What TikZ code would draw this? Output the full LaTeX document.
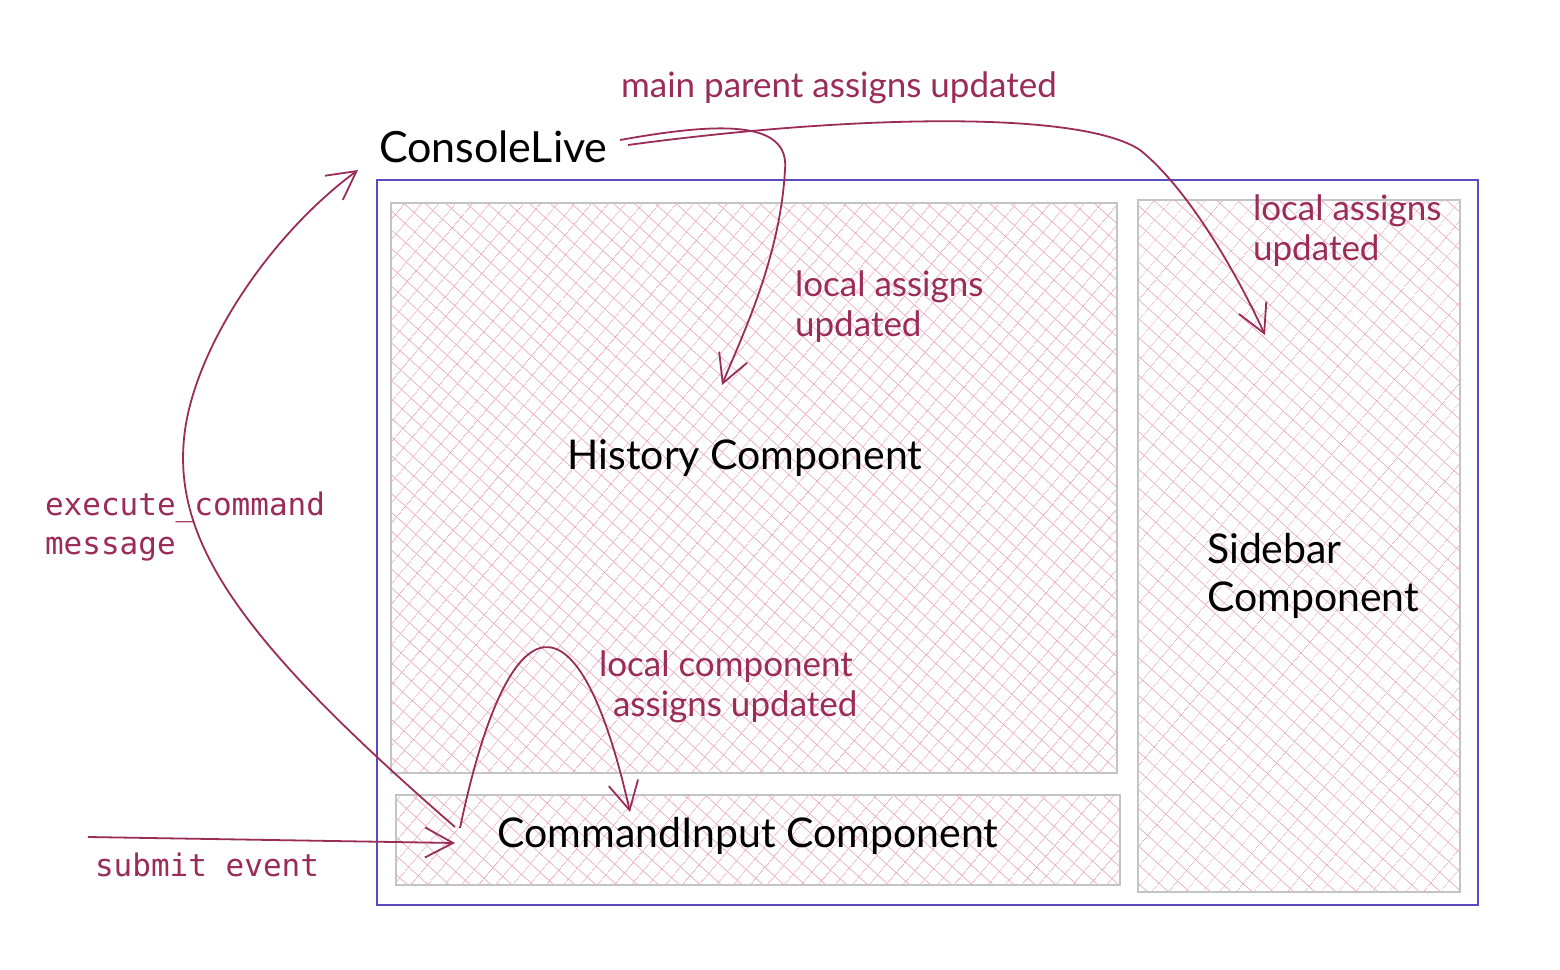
\documentclass[tikz,border=0pt]{standalone}
\usepackage{fontspec}
\setmainfont{Lato}
\setmonofont{DejaVu Sans Mono}
\usetikzlibrary{arrows.meta,positioning,patterns.meta}

\definecolor{wine}{HTML}{9A2C55}
\definecolor{hatchpink}{HTML}{EAACBE}
\definecolor{frameblue}{HTML}{5A4BC0}
\definecolor{boxgray}{HTML}{C4C4C4}

\tikzset{
  hatchbox/.style={draw=boxgray, line width=1.4pt, inner sep=0pt, outer sep=0pt,
    anchor=north west,
    preaction={pattern={Lines[angle=50,distance=6.5pt,line width=0.35pt]}, pattern color=hatchpink},
    preaction={pattern={Lines[angle=-42,distance=7pt,line width=0.35pt]}, pattern color=hatchpink}},
  framebox/.style={draw=frameblue, line width=1.4pt, inner sep=0pt, outer sep=0pt, anchor=north west},
  sketchtext/.style={font=\fontsize{20.5}{24}\selectfont, text=black},
  notetext/.style={font=\fontsize{17.5}{20}\selectfont, text=wine, align=left},
  monotext/.style={font=\ttfamily\fontsize{15.5}{19.5}\selectfont, text=wine, align=left},
  wire/.style={draw=wine, line width=0.9pt, -{Straight Barb[length=14pt,width=15pt,line width=0.9pt]}}
}

\begin{document}
\begin{tikzpicture}[x=0.5pt, y=-0.5pt]

        \useasboundingbox (0,0) rectangle (1560,970);

        %================================================
        % Outer frame and the three component boxes
        %================================================
        \node[framebox, minimum width=550.5pt, minimum height=362.5pt] (frame) at (377,180) {};

        \node[hatchbox, minimum width=363pt, minimum height=285pt] (historybox) at (391,203) {};
        \node[hatchbox, minimum width=161pt, minimum height=346pt] (sidebarbox) at (1138,200) {};
        \node[hatchbox, minimum width=362pt, minimum height=45pt] (inputbox) at (396,795) {};

        %================================================
        % Arrow end points
        %================================================
        \coordinate (submitstart) at (88,837);
        \coordinate (submittip) at (455,843);
        \coordinate (execstart) at (455,827);
        \coordinate (exectip) at (358,170);
        \coordinate (loopstart) at (460,828);
        \coordinate (looptip) at (630,812);
        \coordinate (parentstart) at (620,140);
        \coordinate (histtip) at (722,385);
        \coordinate (parentstartb) at (628,145);
        \coordinate (sidetip) at (1265,335);

        %================================================
        % Arrows
        %================================================
        \draw[wire] (submitstart) -- (submittip);

        \draw[wire] (execstart) .. controls (240,640) and (170,540) .. (185,430)
                    .. controls (197,345) and (270,235) .. (exectip);

        \draw[wire] (loopstart) .. controls (510,590) and (580,590) .. (looptip);

        \draw[wire] (parentstart) .. controls (720,122) and (790,120) .. (785,170)
                    .. controls (780,260) and (740,340) .. (histtip);

        \draw[wire] (parentstartb) .. controls (850,115) and (1080,110) .. (1140,150)
                    .. controls (1190,190) and (1240,280) .. (sidetip);

        %================================================
        % Texts
        %================================================
        \node[sketchtext, anchor=west, font=\fontsize{21.5}{24}\selectfont] (console) at (372,147) {ConsoleLive};
        \node[notetext, anchor=west] (parentnote) at (614,88) {main parent assigns updated};
        \node[notetext, anchor=north west] (histnote) at (788,264) {local assigns\\updated};
        \node[sketchtext] (historyname) at (745,458) {History Component};
        \node[sketchtext, anchor=north west, align=left] (sidebarname) at (1200,526) {Sidebar\\Component};
        \node[notetext, anchor=north west] (sidenote) at (1246,188) {local assigns\\updated};
        \node[notetext, anchor=north west] (loopnote) at (592,644) {local component\\\hspace{7pt}assigns updated};
        \node[sketchtext] (inputname) at (748,836) {CommandInput Component};
        \node[monotext, anchor=north west] (execnote) at (38,485) {execute\_command\\message};
        \node[monotext, anchor=west] (submitnote) at (88,865) {submit event};

\end{tikzpicture}
\end{document}
